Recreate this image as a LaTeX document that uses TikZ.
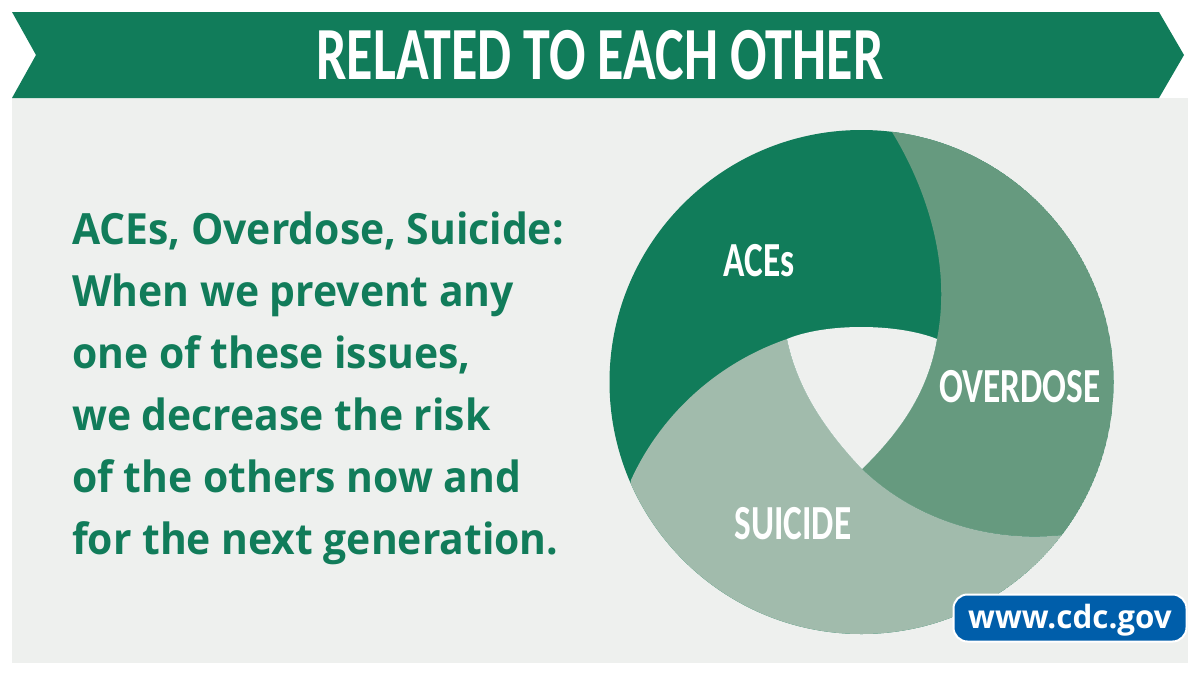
\documentclass[tikz,border=0pt]{standalone}
\usepackage{fontspec}
\setmainfont{Open Sans}
\newfontfamily\labelfont{Carlito}
\definecolor{acesgreen}{HTML}{117C5A}
\definecolor{overdosegreen}{HTML}{669A7F}
\definecolor{suicidegreen}{HTML}{A1BBAC}
\definecolor{panelgray}{HTML}{EEF0EE}
\definecolor{cdcblue}{HTML}{005EAA}
\tikzset{
    slicelabel/.style={text=white, font=\labelfont\bfseries\fontsize{49}{49}\selectfont, xscale=0.72, anchor=base},
}
\begin{document}
\begin{tikzpicture}[x=1pt,y=-1pt]
    \useasboundingbox (0,0) rectangle (1200,675);

    % Panel and ribbon
    \fill[panelgray] (12,98) rectangle (1188,663);
    \fill[acesgreen] (12,12) -- (1159,12) -- (1184,55) -- (1159,98) -- (12,98) -- (36,55) -- cycle;
    \node[text=white, font=\labelfont\bfseries\fontsize{75}{75}\selectfont, xscale=0.72, anchor=base] (title) at (600,79) {RELATED TO EACH OTHER};

    % Left text
    \node[text=acesgreen, font=\bfseries\fontsize{43}{62}\selectfont, align=left, anchor=north west, inner sep=0pt, xscale=0.95] (message) at (72,212) {ACEs, Overdose, Suicide:\\When we prevent any\\one of these issues,\\we decrease the risk\\of the others now and\\for the next generation.};

    % Ring
    \coordinate (ringcenter) at (861.5,382);
    \coordinate (topouter) at (892,132);
    \coordinate (leftouter) at (631,480);
    \coordinate (rightouter) at (1063,535);
    \coordinate (leftinner) at (787,339);
    \coordinate (rightinner) at (937,339);
    \coordinate (lowinner) at (862,469);

    \begin{scope}
        \clip (ringcenter) circle [radius=252];
        \fill[acesgreen] (ringcenter) circle [radius=252];
        \fill[overdosegreen] (topouter) .. controls (925,186) and (952,262) .. (rightinner)
            .. controls (928,392) and (900,432) .. (lowinner)
            .. controls (915,520) and (990,543) .. (rightouter)
            -- (1150,540) -- (1150,120) -- cycle;
        \fill[suicidegreen] (leftouter) .. controls (662,412) and (720,362) .. (leftinner)
            .. controls (797,388) and (825,430) .. (lowinner)
            .. controls (915,520) and (990,543) .. (rightouter)
            -- (1100,650) -- (600,650) -- cycle;
    \end{scope}
    \fill[panelgray] (leftinner) .. controls (825,323) and (897,323) .. (rightinner)
        .. controls (928,392) and (900,432) .. (lowinner)
        .. controls (825,430) and (797,388) .. (leftinner) -- cycle;

    % Labels
    \node[slicelabel] (aces) at (759,276) {ACEs};
    \node[slicelabel] (overdose) at (1020,402) {OVERDOSE};
    \node[slicelabel] (suicide) at (793,539) {SUICIDE};

    % Web address
    \node[draw=white, line width=2pt, fill=cdcblue, rounded corners=14pt, minimum width=233pt, minimum height=47pt, inner sep=0pt] (badge) at (1070,618) {};
    \node[text=white, font=\bfseries\fontsize{32}{32}\selectfont, xscale=0.98, anchor=base] (web) at (badge.center |- 0,628) {www.cdc.gov};
\end{tikzpicture}
\end{document}
